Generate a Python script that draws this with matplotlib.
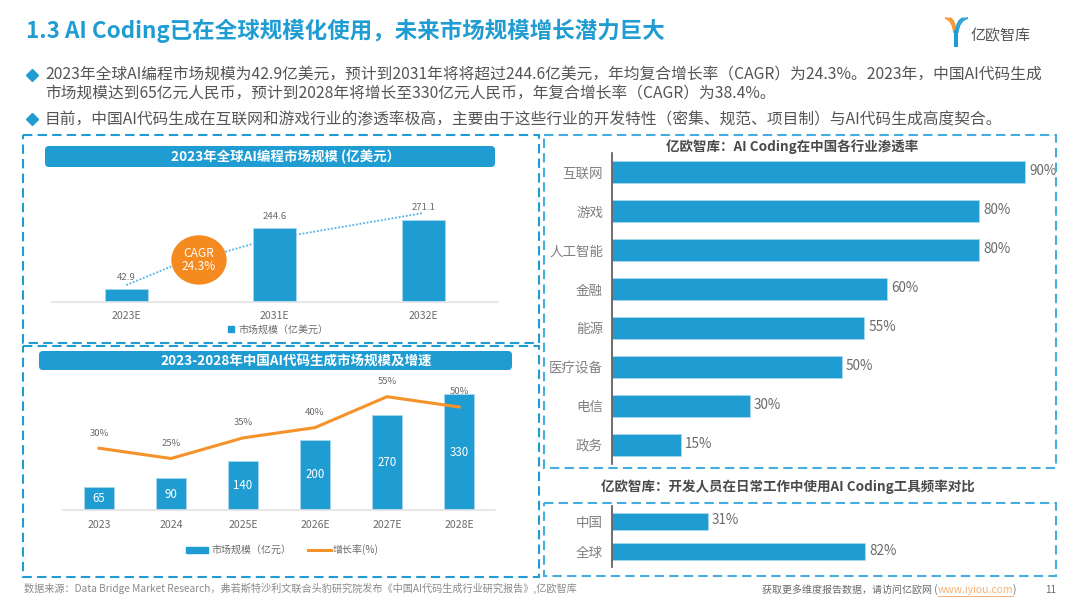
from matplotlib import pyplot as plt
from matplotlib.patches import Ellipse, FancyBboxPatch, PathPatch, Rectangle
from matplotlib.path import Path

plt.rcParams['font.family'] = ['Noto Sans CJK SC', 'DejaVu Sans']

# chart data
global_years = ['2023E', '2031E', '2032E']
global_sizes = [42.9, 244.6, 271.1]
trend_x = [0, 0.31, 0.66, 0.85, 1.14, 2.0]
trend_y = [56, 119, 165, 192, 222, 294]

china_years = ['2023', '2024', '2025E', '2026E', '2027E', '2028E']
china_sizes = [65, 90, 140, 200, 270, 330]
china_growth = [30, 25, 35, 40, 55, 50]

industries = ['互联网', '游戏', '人工智能', '金融', '能源', '医疗设备', '电信', '政务']
industry_rates = [90, 80, 80, 60, 55, 50, 30, 15]

regions = ['中国', '全球']
region_rates = [31, 82]

BLUE = '#1f9dd3'
ORANGE = '#f5922a'
GREY = '#6a6a6a'
W, H = 1080, 608

# full width punctuation
CM = '\uff0c'
CL = '\uff1a'
LP = '\uff08'
RP = '\uff09'


def px(n):
    # font sizes and offsets are in points, the layout is in pixels
    return n * 72 / 100


def px_axes(left, top, right, bottom, **kw):
    ax = fig.add_axes([left / W, 1 - bottom / H, (right - left) / W, (bottom - top) / H], **kw)
    ax.patch.set_alpha(0)
    return ax


def base_column_axes(ax):
    for side in ['top', 'left', 'right']:
        ax.spines[side].set_visible(False)
    ax.spines['bottom'].set_color('#e3e3e3')
    ax.spines['bottom'].set_linewidth(1.2)
    ax.set_yticks([])
    ax.tick_params(axis='x', length=0, labelsize=px(10.5), labelcolor=GREY, pad=px(9))


def base_bar_axes(ax):
    for side in ['top', 'bottom', 'right']:
        ax.spines[side].set_visible(False)
    ax.spines['left'].set_color('#555555')
    ax.spines['left'].set_linewidth(1.2)
    ax.set_xticks([])
    ax.tick_params(axis='y', length=0, labelsize=px(13.5), labelcolor='#808080', pad=px(9))


fig = plt.figure(figsize=(W / 100, H / 100), dpi=100)

# global market size
ax1 = px_axes(52, 181, 497.5, 302)
ax1.plot(trend_x, trend_y, color='#4db4e0', linewidth=1.3, linestyle=(0, (1, 1)), zorder=1)
ax1.bar(global_years, global_sizes, 0.29, color=BLUE, edgecolor='#a9daf0', linewidth=0.6, zorder=2)
ax1.set_xlim(-0.5, 2.5)
ax1.set_ylim(0, 400)
base_column_axes(ax1)
for i, v in enumerate(global_sizes):
    y = trend_y[-1] if i == 2 else v
    ax1.annotate(str(v), (i, y), xytext=(0, px(1 if i == 2 else 7)), textcoords='offset points',
                 ha='center', va='bottom', fontsize=px(9.5), color=GREY)
ax1.add_patch(Ellipse((0.49, 139), 54 / 148.5, 48 / 0.3025, color='#f58a20', zorder=3, clip_on=False))
ax1.text(0.49, 139, 'CAGR\n24.3%', color='white', ha='center', va='center',
         fontsize=px(12), linespacing=1.05, zorder=4)

# china market size and growth
ax2 = px_axes(63, 380, 495, 510)
ax2.bar(china_years, china_sizes, 0.43, color=BLUE, edgecolor='#a9daf0', linewidth=0.6, zorder=2)
ax2.set_xlim(-0.5, 5.5)
ax2.set_ylim(0, 130 / 0.3515)
base_column_axes(ax2)
ax2.tick_params(axis='x', pad=px(10))
for i, v in enumerate(china_sizes):
    ax2.text(i, v / 2, str(v), color='white', ha='center', va='center', fontsize=px(11.5))

ax2b = ax2.twinx()
ax2b.patch.set_alpha(0)
ax2b.plot(range(len(china_growth)), china_growth, color=ORANGE, linewidth=2.2, zorder=3)
ax2b.set_ylim(0, 130 / 2.06)
ax2b.set_yticks([])
for side in ax2b.spines:
    ax2b.spines[side].set_visible(False)
for i, v in enumerate(china_growth):
    ax2b.annotate(f'{v}%', (i, v), xytext=(0, px(15)), textcoords='offset points',
                  ha='center', va='center', fontsize=px(9.5), color=GREY, annotation_clip=False)

# penetration by industry
ax3 = px_axes(612, 153, 1056, 464)
ax3.barh(industries, industry_rates, 0.565, color=BLUE, edgecolor='#a9daf0', linewidth=0.6)
ax3.set_ylim(7.5, -0.5)
ax3.set_xlim(0, 444 / 4.59)
base_bar_axes(ax3)
for i, v in enumerate(industry_rates):
    ax3.annotate(f'{v}%', (v, i), xytext=(px(4), px(1)), textcoords='offset points',
                 ha='left', va='center', fontsize=px(13.5), color=GREY, annotation_clip=False)

# daily use frequency
ax4 = px_axes(612, 506, 1056, 567)
ax4.barh(regions, region_rates, 0.56, color=BLUE, edgecolor='#a9daf0', linewidth=0.6)
ax4.set_ylim(1.5, -0.5)
ax4.set_xlim(0, 444 / 3.085)
base_bar_axes(ax4)
for i, v in enumerate(region_rates):
    ax4.annotate(f'{v}%', (v, i), xytext=(px(4), px(1)), textcoords='offset points',
                 ha='left', va='center', fontsize=px(13.5), color=GREY)

# page furniture, drawn in pixel coordinates on top of the charts
bg = fig.add_axes([0, 0, 1, 1], zorder=5)
bg.set_xlim(0, W)
bg.set_ylim(H, 0)
bg.axis('off')
bg.patch.set_alpha(0)

bg.text(26, 31, f'1.3 AI Coding已在全球规模化使用{CM}未来市场规模增长潜力巨大', color=BLUE,
        fontsize=px(22.45), fontweight='bold', ha='left', va='center')

body = '#555555'
for y, s in [(75, f'2023年全球AI编程市场规模为42.9亿美元{CM}预计到2031年将将超过244.6亿美元{CM}年均复合增长率{LP}CAGR{RP}为24.3%。2023年{CM}中国AI代码生成'),
             (94, f'市场规模达到65亿元人民币{CM}预计到2028年将增长至330亿元人民币{CM}年复合增长率{LP}CAGR{RP}为38.4%。'),
             (120, f'目前{CM}中国AI代码生成在互联网和游戏行业的渗透率极高{CM}主要由于这些行业的开发特性{LP}密集、规范、项目制{RP}与AI代码生成高度契合。')]:
    bg.text(45, y, s, color=body, fontsize=px(15.7), ha='left', va='center')
for y in [75, 119]:
    bg.plot([32], [y], marker='D', markersize=px(9), color=BLUE)

# dashed boxes
for (x0, y0, x1, y1), col in [((23, 135, 539, 343), BLUE), ((23, 346, 539, 577), BLUE),
                              ((544, 135, 1056, 468), '#45aede'), ((544, 503, 1056, 576), '#45aede')]:
    bg.add_patch(Rectangle((x0, y0), x1 - x0, y1 - y0, fill=False, edgecolor=col,
                           linewidth=1.5, linestyle=(0, (4.5, 2.5))))

# blue header bars
for (x0, y0, x1, y1), tx, s in [((45, 146, 495, 167), 286, f'2023年全球AI编程市场规模 (亿美元{RP}'),
                                ((39, 351, 512, 370), 296, '2023-2028年中国AI代码生成市场规模及增速')]:
    bg.add_patch(FancyBboxPatch((x0 + 3, y0 + 3), x1 - x0 - 6, y1 - y0 - 6,
                                boxstyle='round,pad=3,rounding_size=4', color=BLUE, linewidth=0))
    bg.text(tx, (y0 + y1) / 2, s, color='white', fontsize=px(13.5),
            fontweight='bold', ha='center', va='center')

# panel titles
bg.text(792, 147, f'亿欧智库{CL}AI Coding在中国各行业渗透率', color='#4a4a4a', fontsize=px(13.5),
        fontweight='bold', ha='center', va='center')
bg.text(788, 487, f'亿欧智库{CL}开发人员在日常工作中使用AI Coding工具频率对比', color='#4a4a4a', fontsize=px(13.5),
        fontweight='bold', ha='center', va='center')

# legends
bg.add_patch(Rectangle((228, 326), 6, 6, color=BLUE))
bg.text(238, 330, f'市场规模{LP}亿美元{RP}', color=GREY, fontsize=px(10), ha='left', va='center')
bg.add_patch(Rectangle((186, 547), 22, 6, color=BLUE))
bg.text(211, 550, f'市场规模{LP}亿元{RP}', color=GREY, fontsize=px(10), ha='left', va='center')
bg.plot([308, 331], [550, 550], color=ORANGE, linewidth=2.2)
bg.text(333, 550, '增长率(%)', color=GREY, fontsize=px(10), ha='left', va='center')

# footer
bg.text(24, 588, f'数据来源{CL}Data Bridge Market Research{CM}弗若斯特沙利文联合头豹研究院发布《中国AI代码生成行业研究报告》,亿欧智库',
        color='#8a8a8a', fontsize=px(10.15), ha='left', va='center')
bg.text(762, 590, f'获取更多维度报告数据{CM}请访问亿欧网 (', color=GREY, fontsize=px(10), ha='left', va='center')
bg.text(938, 590, 'www.iyiou.com', color='#f2b27a', fontsize=px(10.4), ha='left', va='center')
bg.plot([938, 1013], [596, 596], color='#f2b27a', linewidth=0.7)
bg.text(1013, 590, ')', color=GREY, fontsize=px(10), ha='left', va='center')
bg.text(1051, 590, '11', color=GREY, fontsize=px(10), ha='center', va='center')

# logo
for dx, col in [(0, '#f5922a'), (2.2, '#f7a24c'), (4.4, '#f5922a')]:
    p = Path([(945 + dx, 18), (953 + dx * 0.6, 20), (954 + dx * 0.3, 33)], [Path.MOVETO, Path.CURVE3, Path.CURVE3])
    bg.add_patch(PathPatch(p, fill=False, edgecolor=col, linewidth=1.3))
for dx, col in [(0, '#1f9dd3'), (2.2, '#45aede'), (4.4, '#1f9dd3')]:
    p = Path([(968 - dx, 18), (959 - dx * 0.6, 20), (957.5 - dx * 0.3, 33)], [Path.MOVETO, Path.CURVE3, Path.CURVE3])
    bg.add_patch(PathPatch(p, fill=False, edgecolor=col, linewidth=1.3))
bg.add_patch(Rectangle((953.5, 30), 4.5, 17, color='#1f9dd3', linewidth=0))
bg.text(971, 36, '亿欧智库', color='#555555', fontsize=px(15), ha='left', va='center')

plt.savefig('out.png', dpi=100)
